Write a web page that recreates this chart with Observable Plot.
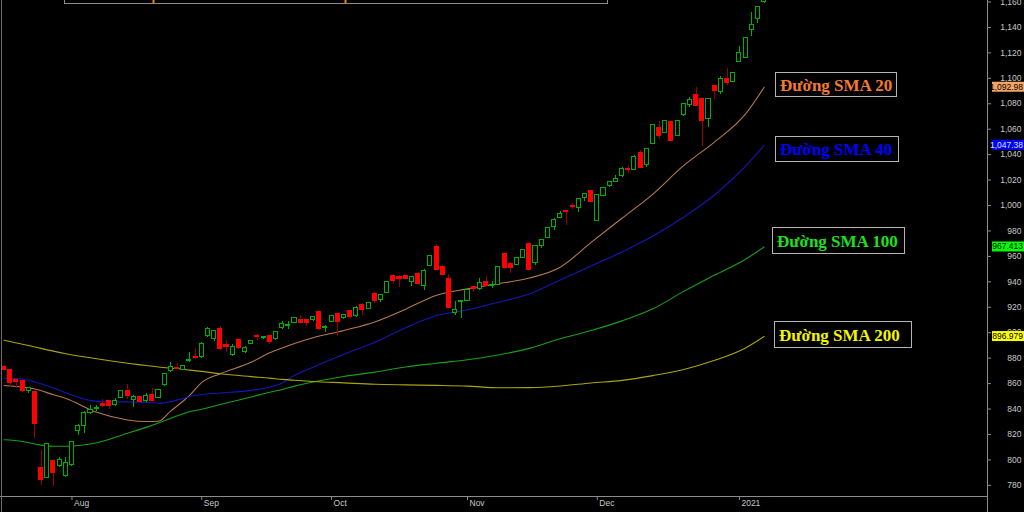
<!DOCTYPE html>
<html><head><meta charset="utf-8">
<script src="https://cdn.jsdelivr.net/npm/d3@7"></script>
<script src="https://cdn.jsdelivr.net/npm/@observablehq/plot@0.6"></script>
<style>html,body{margin:0;padding:0;background:#000;overflow:hidden}</style>
</head><body><div id="chart"></div>
<script>
// Daily candles (trading-day index 0 = 17 Jul 2020 ... 123 = 8 Jan 2021)
const opens = [873,870.3,863.2,862.4,854,853.2,793.5,785.6,799.5,795,
787,796.1,822.6,826.5,837,840,844.1,846.7,843,849,
853.8,847.3,849.6,846.5,850.9,849,858.7,869.7,872.6,870.8,
878,881.3,881.3,897.3,894.7,903,890.7,882.6,894.1,885,
891,897.8,896.2,897.5,894.9,903.5,905.2,907.8,910.2,910.2,
909.9,915.9,903.8,908.8,914.9,911.7,916.9,912.8,921.6,918.5,
930.1,925.9,931.1,944.7,943.5,944.4,939.7,946.5,937.1,952.3,
967.2,952,942.4,915.6,924.5,924.8,936.1,934.2,939.5,936.9,
937.4,962,953.9,953.1,958.6,969.6,954.6,968.3,974.3,983.5,
990.3,995.6,999.4,998.2,1006.1,1011.3,988.2,1007.6,1015.7,1018.6,
1023.6,1028.8,1028.3,1041.4,1032.2,1048.5,1061.1,1057.2,1065.3,1054.8,
1070.8,1079.4,1087,1084.1,1068.2,1093.8,1089.6,1099.1,1096.9,1112.7,
1116.1,1138.1,1146.5,1160];
const highs = [874,870.8,863.5,863,856.6,853.5,807.4,812.8,800,801.6,
802,814,828,838,842.8,842.8,847.5,847,848,854.5,
859,850.5,850,852,856.1,855,868,876.6,876,874.5,
884.7,887.3,892,903.8,902,905,893.9,890.7,895,889,
894,898.8,897.2,898,901,908.7,908.7,912,913.3,910.5,
912.5,916.5,905.7,913.5,915,914.5,917.5,920.5,923,924,
931.4,929.5,940,945,945.2,944.8,944,947,949.5,961,
969.1,952.5,945.8,924.5,925.5,933.5,936.5,942.4,944.2,940.3,
952,962.5,955.4,959,965.5,971.2,968.5,973,983,989.5,
995,996.2,1001.4,1005.5,1009.5,1011.5,1008.5,1014,1019,1023.6,
1029.5,1031.5,1039,1043.3,1045,1064,1066.3,1066.5,1065.5,1067,
1080.5,1085.1,1092.5,1084.5,1084,1094,1101.4,1107.7,1104.2,1125,
1132.2,1151.5,1156.5,1170];
const lows = [870,856.7,856.4,853,852,816.6,779.9,785.4,779,794,
786,795,819,820.5,836,838,841,839.6,842,848.5,
847.7,841.4,845,845,846,848,858,869,871,870,
876.8,879,880,896,893.3,886,884.7,881,886.5,884,
890.5,894,894.4,890.5,894,902.3,902.3,907,907,905,
909,902,899.9,908.5,897.3,910,911,912,913.8,918,
922.7,923.5,930.5,937.9,935.3,941.5,936.6,937.5,933.2,952,
949,944.8,919,913.6,911,924.5,931.8,933.5,936,934.5,
937,950,946.8,952.8,958,949,952.6,966,974,980.4,
990,984.3,996.6,994.8,1003.4,1002,988,1007,1013.9,1018,
1021.8,1025.4,1028,1029,1029.6,1048,1051.7,1057,1050.8,1054.5,
1070,1076.8,1077.5,1046.4,1061.1,1083.1,1087.3,1094.4,1096.5,1112.3,
1115.8,1133.1,1143.3,1158.5];
const closes = [871,860.6,860.9,854,856.4,828.4,784.4,812.6,789.5,800.3,
797.7,813.9,826.8,837,839.6,840.8,842.5,842.2,846.4,854.3,
850.1,849.6,845.7,850.6,846.7,854.8,867.9,873.4,871.6,874,
878.8,880.5,891,902.8,901,887,888.9,888.9,888.2,888.2,
893.6,896.8,897,892.8,900.4,907.2,906,911.7,907.8,907.5,
912,902.8,904.6,913.3,908.8,914,912.2,919.1,917.7,923.5,
924.8,929.3,939.5,941,942.6,942,943.9,938.1,948.9,960.7,
949.7,945.2,919.8,918.2,925.3,933.2,934,938.9,936.6,937.8,
951.5,950.7,951,958.9,965.2,949.7,968.3,972.5,982.5,989,
993.5,994.8,998.5,1005.3,1009.2,1002.4,1008.4,1013.6,1018.6,1021,
1028.9,1027.8,1038.5,1029.6,1044.8,1063.5,1054.5,1066.1,1051.1,1066.8,
1080,1082.6,1078.1,1066.3,1083.6,1090.4,1099.1,1096.2,1103.8,1120.1,
1131.9,1142.3,1155.9,1168];

// Moving averages read at these candle indices
const smaIdx = [0,3,5,8,10,15,20,23,25,27,29,30,32,35,40,43,45,47,50,55,60,65,70,75,80,85,90,95,100,105,110,115,120,123];
const sma20 = [858.5,857.2,855.7,851.2,848.3,837.4,831.4,830.2,830.4,838.5,846.3,850.5,861,867.8,876.7,884.2,888,891.5,896,901.8,908.5,918.5,929.5,934.5,938.5,943,951.5,971,990,1009,1031.5,1050,1072,1092.98];
const sma40 = [864.2,863.6,861.3,856.6,852.8,846,845.6,845.2,844.6,845.8,848.3,849.7,851.4,852.6,854.7,857.2,860.5,866.5,872.8,883,892.5,904,913.5,918,924,930.5,941.5,952.5,963.5,976,991,1008.5,1031,1047.38];
const sma100 = [815.8,814.5,812.5,810.8,810.8,813.5,821,825.6,829,832.8,836.3,837.8,839.8,843.5,849.5,853.2,855.4,858,861.3,865.6,869,873,876,878.8,882.5,887.7,895.2,901.7,909.3,918.8,932.5,945.3,957.8,967.413];
const sma200 = [894.1,891,888.8,885.5,883.5,879.5,876,874.2,873,872.1,871.3,870.6,869.6,867.7,865.5,864.3,863.3,862.6,861.7,860.6,859.5,859,858.6,858,856.7,856.8,858.1,860.5,862.5,866.3,871.1,878.3,888,896.979];

const smaNames = ["SMA 20","SMA 40","SMA 100","SMA 200"];
const smaLineColors = ["#b47a4c","#1616b8","#18a018","#aaa414"];
const smaLastText = ["1,092.98","1,047.38","967.413","896.979"];
const tagFills = ["#f6a466","#0000ff","#00ff00","#ffff00"];
const tagTextColors = ["#000000","#dde0ff","#000000","#000000"];
const labelTexts = ["Đường SMA 20","Đường SMA 40","Đường SMA 100","Đường SMA 200"];
const labelColors = ["#f47a30","#0000ff","#1ee01e","#f4f400"];

const yTicks = [780,800,820,840,860,880,900,920,940,960,980,1000,1020,1040,1060,1080,1100,1120,1140,1160];
const monthIdx = [11,32,53,75,96,119];
const monthLabels = ["Aug","Sep","Oct","Nov","Dec","2021"];

const GREEN = "#00b000", RED = "#ff0000", WICK_RED = "#980000";
const candles = opens.map((o, i) => ({i, o, h: highs[i], l: lows[i], c: closes[i], up: closes[i] >= o}));
const smaValues = [sma20, sma40, sma100, sma200];
const smaData = smaValues.flatMap((vals, s) => smaIdx.map((i, k) => ({i, v: vals[k], s: smaNames[s], col: smaLineColors[s]})));

const chart = Plot.plot({
  width: 1024, height: 512,
  marginLeft: 1, marginRight: 37, marginTop: 0, marginBottom: 16,
  x: {type: "linear", domain: [-0.405, 159.14], axis: null, label: null},
  y: {type: "linear", domain: [771.24, 1161.18], axis: null, label: null},
  style: {background: "#000", color: "#c8c8c8", fontFamily: "'Liberation Sans', Arial, sans-serif", fontSize: "8.5px"},
  marks: [
    Plot.line(smaData, {x: "i", y: "v", z: "s", stroke: "col", strokeWidth: 1.1, curve: "monotone-x", clip: true}),
    Plot.ruleX(candles, {x: "i", y1: "l", y2: "h", stroke: d => d.up ? GREEN : WICK_RED, strokeWidth: 1, shapeRendering: "crispEdges", clip: true}),
    Plot.rect(candles, {x1: d => d.i - 0.33, x2: d => d.i + 0.33, y1: "o", y2: "c",
      fill: d => d.up ? "#000000" : RED, stroke: d => d.up ? GREEN : RED, strokeWidth: 1, shapeRendering: "crispEdges", clip: true}),
    Plot.axisY(yTicks, {anchor: "right", tickSize: 3, tickFormat: () => "", label: null, stroke: "#8c8c8c"}),
    Plot.text(yTicks, {y: d => d, frameAnchor: "right", dx: 34, textAnchor: "end", text: d => d3.format(",")(d), fill: "#c8c8c8"}),
    Plot.axisX(monthIdx, {anchor: "bottom", tickSize: 4, tickFormat: () => "", label: null, stroke: "#8c8c8c"}),
    Plot.text(monthIdx, {x: d => d, frameAnchor: "bottom", dy: 9, dx: 2, textAnchor: "start", text: (d, k) => monthLabels[k], fill: "#c8c8c8"})
  ]
});
document.getElementById("chart").appendChild(chart);

const svg = d3.select(chart);
const ys = chart.scale("y");
const g = svg.append("g").attr("text-anchor", "start");
// frame lines
g.append("line").attr("x1", 987.5).attr("x2", 987.5).attr("y1", 0).attr("y2", 512).attr("stroke", "#8c8c8c");
g.append("line").attr("x1", 0).attr("x2", 987.5).attr("y1", 496.5).attr("y2", 496.5).attr("stroke", "#8c8c8c");
g.append("line").attr("x1", 1.5).attr("x2", 1.5).attr("y1", 0).attr("y2", 512).attr("stroke", "#6c6c6c");
// top info box (cut off)
g.append("rect").attr("x", 64.5).attr("y", -6).attr("width", 543).attr("height", 9.5).attr("fill", "#000").attr("stroke", "#8c8c8c");
g.append("rect").attr("x", 152.5).attr("y", 0).attr("width", 2).attr("height", 3).attr("fill", "#ff7a00");
g.append("rect").attr("x", 344.5).attr("y", 0).attr("width", 2).attr("height", 3).attr("fill", "#ff7a00");
// last-value tags on the price axis
smaValues.forEach((vals, s) => {
  const yy = ys.apply(vals[vals.length - 1]);
  g.append("rect").attr("x", 992).attr("y", yy - 5).attr("width", 32).attr("height", 10).attr("fill", tagFills[s]);
  g.append("text").attr("x", 1023).attr("y", yy).attr("dy", "0.35em").attr("text-anchor", "end")
    .attr("font-family", "'Liberation Sans', Arial, sans-serif").attr("font-size", "8.5px")
    .attr("fill", tagTextColors[s]).text(smaLastText[s]);
});
// SMA label boxes
const boxes = [[775.5, 72.5, 121, 24], [775.5, 136.5, 123, 25], [772.5, 227.5, 132, 26], [774.5, 321.5, 137, 26]];
boxes.forEach(([bx, by, bw, bh], s) => {
  g.append("rect").attr("x", bx).attr("y", by).attr("width", bw).attr("height", bh).attr("fill", "#000").attr("stroke", "#b4b4b4");
  g.append("text").attr("x", bx + 4.5).attr("y", by + bh / 2).attr("dy", "0.36em").attr("text-anchor", "start")
    .attr("font-family", "'Liberation Serif', 'Times New Roman', serif").attr("font-weight", "bold").attr("font-size", "17px")
    .attr("fill", labelColors[s]).text(labelTexts[s]);
});
</script>
</body></html>
